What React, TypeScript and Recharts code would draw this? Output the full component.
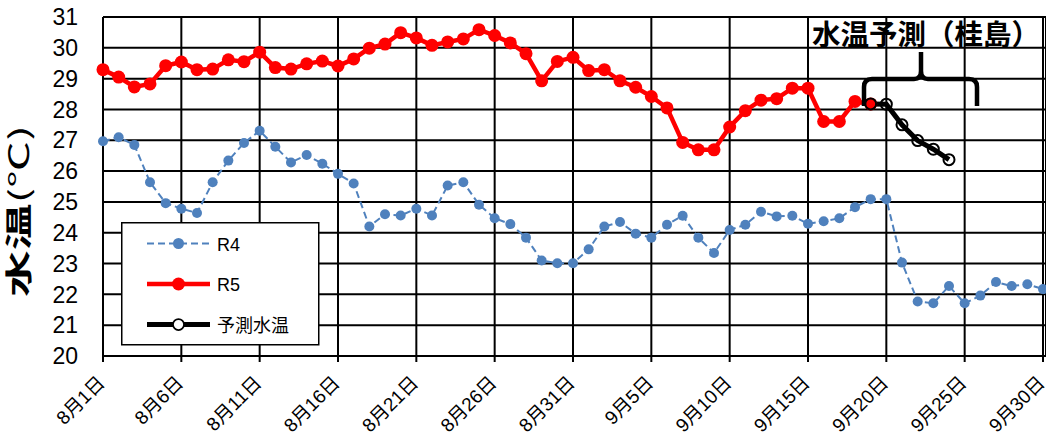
import React from 'react';
import { LineChart, Line, XAxis, YAxis, CartesianGrid, Legend } from 'recharts';

const dayLabels: string[] = [];
for (let d = 1; d <= 31; d++) dayLabels.push(`8月${d}日`);
for (let d = 1; d <= 30; d++) dayLabels.push(`9月${d}日`);

const tickLabels = ['8月1日', '8月6日', '8月11日', '8月16日', '8月21日', '8月26日', '8月31日', '9月5日', '9月10日', '9月15日', '9月20日', '9月25日', '9月30日'];
const yTicks = [20, 21, 22, 23, 24, 25, 26, 27, 28, 29, 30, 31];

const r4 = [
  26.97, 27.1, 26.85, 25.64, 24.96, 24.78, 24.64, 25.64, 26.34, 26.91,
  27.31, 26.79, 26.28, 26.52, 26.24, 25.91, 25.6, 24.2, 24.6, 24.56,
  24.78, 24.56, 25.53, 25.64, 24.91, 24.47, 24.28, 23.84, 23.1, 23.01,
  23.01, 23.46, 24.2, 24.35, 23.97, 23.84, 24.26, 24.55, 23.84, 23.34,
  24.09, 24.26, 24.68, 24.53, 24.55, 24.29, 24.37, 24.47, 24.83, 25.09,
  25.09, 23.03, 21.77, 21.71, 22.27, 21.71, 21.96, 22.4, 22.27, 22.33,
  22.17,
];

const r5 = [
  29.29, 29.05, 28.73, 28.83, 29.42, 29.54, 29.29, 29.31, 29.61, 29.55,
  29.86, 29.36, 29.31, 29.48, 29.57, 29.41, 29.64, 29.99, 30.12, 30.49,
  30.32, 30.08, 30.19, 30.29, 30.59, 30.4, 30.16, 29.81, 28.93, 29.56,
  29.69, 29.26, 29.29, 28.93, 28.72, 28.42, 28.05, 26.93, 26.69, 26.69,
  27.43, 27.96, 28.3, 28.35, 28.69, 28.69, 27.61, 27.61, 28.26, 28.18,
];

const forecastStart = 49;
const forecast = [28.18, 28.17, 27.5, 26.99, 26.71, 26.37];

const data = dayLabels.map((label, i) => ({
  label,
  r4: r4[i] ?? null,
  r5: r5[i] ?? null,
  fc: i >= forecastStart && i - forecastStart < forecast.length ? forecast[i - forecastStart] : null,
}));

const NUM_FONT = '"Liberation Sans", "Noto Sans CJK JP", sans-serif';
const JP_FONT = '"Noto Sans CJK JP", "Liberation Sans", sans-serif';

const XTick = (props: any) => {
  const { x, y, payload } = props;
  return (
    <g transform={`translate(${x + 3},${y + 20})`}>
      <text transform="rotate(-45)" textAnchor="end" fontSize={19} fontFamily={NUM_FONT} fill="#000">
        {payload.value}
      </text>
    </g>
  );
};

const YLabel = () => (
  <text
    transform="translate(29,211) rotate(-90)"
    textAnchor="middle"
    fontSize={27}
    fontFamily={JP_FONT}
    fill="#000"
    textLength={172}
    lengthAdjust="spacingAndGlyphs"
  >
    <tspan fontWeight="bold">水温</tspan>
    <tspan>(℃)</tspan>
  </text>
);

const legendItems = [
  { name: 'R4', color: '#4F81BD', width: 2, dash: '7 4', r: 5.5, fill: '#4F81BD', stroke: 'none' },
  { name: 'R5', color: '#FF0000', width: 4.5, dash: undefined, r: 6.5, fill: '#FF0000', stroke: 'none' },
  { name: '予測水温', color: '#000000', width: 5, dash: undefined, r: 5.5, fill: '#FFFFFF', stroke: '#000' },
];

const renderLegend = () => (
  <svg width={199} height={124} style={{ display: 'block' }}>
    <rect x={0.75} y={0.75} width={197} height={122} fill="#fff" stroke="#000" strokeWidth={1.5} />
    {legendItems.map((it, k) => {
      const cy = 21.5 + k * 40.5;
      return (
        <g key={it.name}>
          <line x1={26} x2={89} y1={cy} y2={cy} stroke={it.color} strokeWidth={it.width} strokeDasharray={it.dash} />
          <circle cx={57.5} cy={cy} r={it.r} fill={it.fill} stroke={it.stroke} strokeWidth={1.75} />
          <text x={96} y={cy + 7} fontSize={18} fontFamily={NUM_FONT} fill="#000">
            {it.name}
          </text>
        </g>
      );
    })}
  </svg>
);

export default function App() {
  return (
    <div style={{ position: 'absolute', left: 0, top: 0, width: 1046, height: 443, overflow: 'hidden', background: '#fff' }}>
      <LineChart width={1046} height={443} data={data} margin={{ top: 17, right: 0, left: 0, bottom: 0 }}>
        <CartesianGrid stroke="#000" strokeWidth={2} horizontal vertical />
        <XAxis
          dataKey="label"
          ticks={tickLabels}
          interval={0}
          height={87}
          padding={{ left: 0, right: 3 }}
          axisLine={{ stroke: '#000', strokeWidth: 2 }}
          tickLine={{ stroke: '#000', strokeWidth: 2 }}
          tickSize={6}
          tick={<XTick />}
        />
        <YAxis
          domain={[20, 31]}
          ticks={yTicks}
          interval={0}
          width={103}
          axisLine={false}
          tickLine={false}
          tickSize={23}
          tickMargin={2}
          tick={{ fontSize: 23, fontFamily: NUM_FONT, fill: '#000' }}
          label={<YLabel />}
        />
        <Legend
          layout="horizontal"
          verticalAlign="middle"
          align="center"
          content={renderLegend}
          wrapperStyle={{ position: 'absolute', left: 121, top: 222, width: 199, height: 124 }}
        />
        <Line
          dataKey="r4"
          name="R4"
          stroke="#4F81BD"
          strokeWidth={2}
          strokeDasharray="7 4"
          dot={{ r: 5, fill: '#4F81BD', stroke: 'none' }}
          activeDot={false}
          isAnimationActive={false}
        />
        <Line
          dataKey="r5"
          name="R5"
          stroke="#FF0000"
          strokeWidth={4.5}
          dot={{ r: 6.5, fill: '#FF0000', stroke: 'none' }}
          activeDot={false}
          isAnimationActive={false}
        />
        <Line
          dataKey="fc"
          name="予測水温"
          stroke="#000"
          strokeWidth={5}
          dot={{ r: 5.5, fill: 'none', stroke: '#000', strokeWidth: 2 }}
          activeDot={false}
          isAnimationActive={false}
        />
      </LineChart>
      <svg width={1046} height={443} style={{ position: 'absolute', left: 0, top: 0, pointerEvents: 'none' }}>
        <text x={812} y={45} fontSize={28.5} fontWeight="bold" fontFamily={JP_FONT} fill="#000">
          水温予測（桂島）
        </text>
        <path
          d="M 864 106 L 864 87 Q 864 79 872 79 L 914 79 Q 921 79 921 71 L 921 52 L 921 71 Q 921 79 928 79 L 969 79 Q 977 79 977 87 L 977 106"
          fill="none"
          stroke="#000"
          strokeWidth={4.5}
        />
      </svg>
    </div>
  );
}
